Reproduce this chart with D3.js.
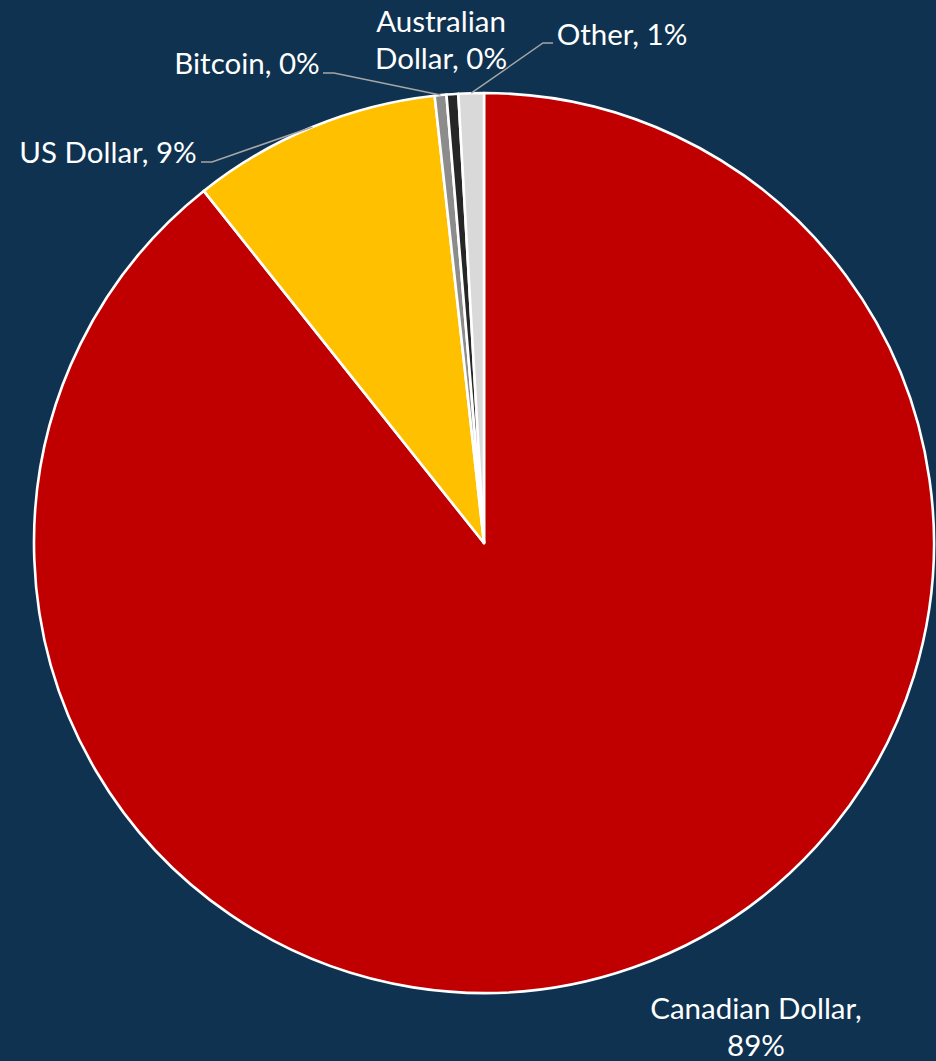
<!DOCTYPE html>
<html>
<head>
<meta charset="utf-8">
<script src="https://cdn.jsdelivr.net/npm/d3@7"></script>
<style>
  html, body { margin: 0; padding: 0; background: #0E3250; }
  svg { display: block; }
</style>
</head>
<body>
<svg id="chart" width="936" height="1061"></svg>
<script>
// Currency share of holdings
const categories = ["Canadian Dollar", "US Dollar", "Bitcoin", "Australian Dollar", "Other"];
const shares = [89.3, 8.95, 0.42, 0.42, 0.91];
const labelText = ["89%", "9%", "0%", "0%", "1%"];
const colors = ["#C00000", "#FFC000", "#8C8C8C", "#262626", "#D9D9D9"];

const W = 936, H = 1061;
const cx = 484, cy = 543, R = 450;
const font = "Lato, 'Open Sans', sans-serif";
const fontSize = 29.5;

const svg = d3.select("#chart");
svg.append("rect").attr("width", W).attr("height", H).attr("fill", "#0E3250");

const data = categories.map((c, i) => ({ name: c, value: shares[i], label: labelText[i], color: colors[i] }));

const pie = d3.pie().sort(null).value(d => d.value).startAngle(0).endAngle(2 * Math.PI);
const arcs = pie(data);
const arc = d3.arc().innerRadius(0).outerRadius(R);

const g = svg.append("g").attr("transform", `translate(${cx},${cy})`);
g.selectAll("path")
  .data(arcs)
  .join("path")
  .attr("d", arc)
  .attr("fill", d => d.data.color)
  .attr("stroke", "#FFFFFF")
  .attr("stroke-width", 2.6)
  .attr("stroke-linejoin", "round");

// point on the rim at the middle of a slice
function rimPoint(d) {
  const a = (d.startAngle + d.endAngle) / 2;
  return [cx + R * Math.sin(a), cy - R * Math.cos(a)];
}

// label layout: text lines, anchor point and leader elbow
const layout = {
  "Canadian Dollar": { lines: ["Canadian Dollar,", "89%"], x: 756, y: 1019, leader: null },
  "US Dollar": { lines: ["US Dollar, 9%"], x: 108, y: 163, leader: { elbow: [212, 162], end: [201, 162] } },
  "Bitcoin": { lines: ["Bitcoin, 0%"], x: 247, y: 74, leader: { elbow: [334, 73], end: [323, 73] } },
  "Australian Dollar": { lines: ["Australian", "Dollar, 0%"], x: 441, y: 32, leader: null },
  "Other": { lines: ["Other, 1%"], x: 622, y: 45, leader: { elbow: [543, 43], end: [553, 43] } }
};

const lineGap = 37;
const labels = svg.append("g");

arcs.forEach(d => {
  const L = layout[d.data.name];
  if (L.leader) {
    const p = rimPoint(d);
    labels.append("polyline")
      .attr("points", [p, L.leader.elbow, L.leader.end].map(q => q.join(",")).join(" "))
      .attr("fill", "none")
      .attr("stroke", "#A6A6A6")
      .attr("stroke-width", 1.5);
  }
  const t = labels.append("text")
    .attr("x", L.x)
    .attr("y", L.y)
    .attr("text-anchor", "middle")
    .attr("fill", "#FFFFFF")
    .attr("font-family", font)
    .attr("font-size", fontSize);
  L.lines.forEach((s, i) => {
    t.append("tspan").attr("x", L.x).attr("dy", i === 0 ? 0 : lineGap).text(s);
  });
});
</script>
</body>
</html>
